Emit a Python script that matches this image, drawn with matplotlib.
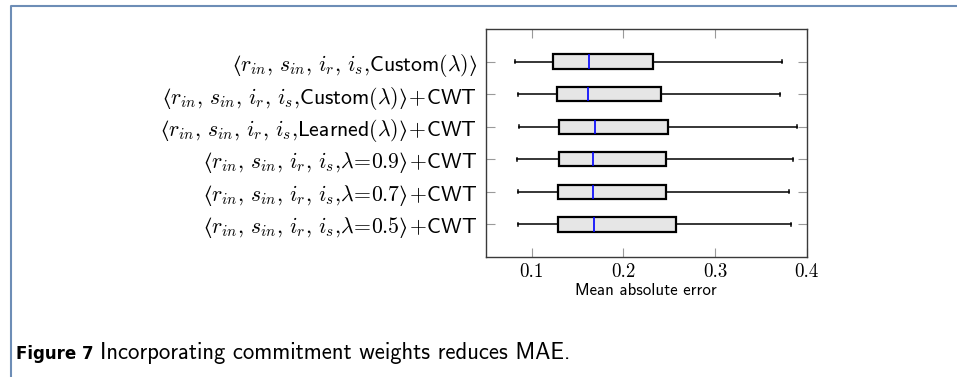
import matplotlib
matplotlib.use('Agg')
import matplotlib.pyplot as plt
from matplotlib.lines import Line2D
import numpy as np

plt.rcParams['mathtext.fontset'] = 'cm'

# ---- data (top row first) ----
pre = r'⟨r_{in},\,s_{in},\,i_r,\,i_s{,}'
post = r'⟩\hspace{0.08}{+}\hspace{0.05}\mathsf{CWT}$'
labels = [
    '$' + pre + r'\mathsf{Custom}(\lambda)⟩$',
    '$' + pre + r'\mathsf{Custom}(\lambda)' + post,
    '$' + pre + r'\mathsf{Learned}(\lambda)' + post,
    '$' + pre + r'\lambda\!=\!\mathsf{0.9}' + post,
    '$' + pre + r'\lambda\!=\!\mathsf{0.7}' + post,
    '$' + pre + r'\lambda\!=\!\mathsf{0.5}' + post,
]
whislo = [0.0818, 0.0848, 0.0862, 0.0845, 0.0848, 0.0852]
q1 = [0.1238, 0.1279, 0.1294, 0.1297, 0.1293, 0.1291]
med = [0.1622, 0.1617, 0.1695, 0.1665, 0.1670, 0.1684]
q3 = [0.2325, 0.2412, 0.2492, 0.2471, 0.2470, 0.2572]
whishi = [0.3735, 0.3705, 0.3897, 0.3853, 0.3810, 0.3826]
xticks = [0.1, 0.2, 0.3, 0.4]
xtick_labels = ['0.1', '0.2', '0.3', '0.4']
xlabel = 'Mean absolute error'
caption_bold = 'Figure 7'
caption_text = 'Incorporating commitment weights reduces MAE.'

W, H = 957, 377
fig = plt.figure(figsize=(W / 100, H / 100), dpi=100)
fig.patch.set_facecolor('white')

ax_l, ax_r, ax_t, ax_b = 485.7, 806.7, 29.0, 257.0
ax = fig.add_axes([ax_l / W, 1 - ax_b / H, (ax_r - ax_l) / W, (ax_b - ax_t) / H])

pos = np.arange(1, len(labels) + 1)
stats = []
for i in range(len(labels)):
    stats.append(dict(whislo=whislo[i], q1=q1[i], med=med[i], q3=q3[i],
                      whishi=whishi[i], fliers=[], label=labels[i]))

ax.bxp(stats, positions=pos, orientation='horizontal', widths=0.44,
       patch_artist=True, showfliers=False, manage_ticks=False,
       capwidths=0.09,
       boxprops=dict(facecolor='#e6e6e6', edgecolor='black', linewidth=1.6),
       whiskerprops=dict(color='black', linewidth=1.1),
       capprops=dict(color='black', linewidth=1.1),
       medianprops=dict(color='#0000ff', linewidth=1.2))

ax.set_ylim(len(labels) + 1, 0)
ax.set_xlim(0.05, 0.4)
ax.set_yticks(pos)
ax.set_yticklabels(labels)
ax.set_xticks(xticks)
ax.set_xticklabels(xtick_labels, family='cmr10', va='baseline')
ax.tick_params(axis='both', direction='in', length=6.7, width=0.8,
               color='#9a9a9a', top=True, right=True)
ax.tick_params(axis='y', pad=6.3, labelsize=12.1)
ax.tick_params(axis='x', pad=14.4, labelsize=13.6)
for s in ax.spines.values():
    s.set_color('#3a3a3a')
    s.set_linewidth(1.0)

xl = fig.text((ax_l + ax_r) / 2 / W, 1 - 295 / H, xlabel, family='cmss10',
              fontsize=11, ha='center', va='baseline')
cb = fig.text(16 / W, 1 - 359 / H, caption_bold, family='DejaVu Sans',
              weight='bold', fontsize=11, ha='left', va='baseline')
ct = fig.text(100 / W, 1 - 359 / H, caption_text, family='cmss10',
              fontsize=12, ha='left', va='baseline')

# frame lines (top and left)
fig.add_artist(Line2D([11 / W, 11 / W, 1.0], [0.0, 1 - 5.7 / H, 1 - 5.7 / H],
                      transform=fig.transFigure, color='#6d8db6', linewidth=1.5))


def fit(t, target):
    fig.canvas.draw()
    w = t.get_window_extent(fig.canvas.get_renderer()).width
    t.set_fontsize(t.get_fontsize() * target / w)


fit(xl, 142)
fit(cb, 77)
fit(ct, 473)
fig.canvas.draw()
ylab = ax.get_yticklabels()[3]
w = ylab.get_window_extent(fig.canvas.get_renderer()).width
ax.tick_params(axis='y', labelsize=12.1 * 275 / w)

fig.savefig('out.png', dpi=100, facecolor='white')
